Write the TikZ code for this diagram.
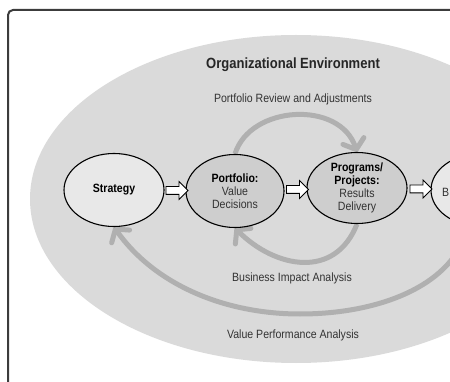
\documentclass[tikz,border=0pt]{standalone}
\usepackage{fontspec}
\setmainfont{Liberation Sans}[FakeStretch=0.88]
\usetikzlibrary{shapes.geometric,shapes.arrows,arrows.meta,calc,backgrounds}
\definecolor{envgray}{HTML}{DADADA}
\definecolor{ovallight}{HTML}{E8E8E8}
\definecolor{ovaldark}{HTML}{CECECE}
\definecolor{loopgray}{HTML}{B0B0B0}
\definecolor{framegray}{HTML}{3C3C3C}
\definecolor{textgray}{HTML}{333333}
\tikzset{
    oval/.style={ellipse,draw=black,line width=1.1pt,minimum width=100pt,minimum height=73pt,inner sep=0pt,align=center,font=\fontsize{12}{13}\selectfont},
    blockarrow/.style={single arrow,draw=black,fill=white,line width=0.8pt,inner xsep=0pt,inner ysep=3.5pt,minimum height=22pt,single arrow head extend=5pt},
    feedback/.style={draw=loopgray,line width=5pt,-{Straight Barb[length=9pt,width=22pt,round]}},
    caption/.style={text=textgray,font=\fontsize{12}{14}\selectfont}
}

\begin{document}
\begin{tikzpicture}[x=1pt,y=-1pt]
            \useasboundingbox (0,0) rectangle (450,382);
            \node[oval,fill=ovallight] (strategy) at (114,190) {\textbf{Strategy}};
            \node[oval,fill=ovaldark,minimum width=98pt] (portfolio) at (235,191) {\textbf{Portfolio:}\\\textcolor{textgray}{Value}\\\textcolor{textgray}{Decisions}};
            \node[oval,fill=ovaldark,minimum height=71pt] (programs) at (357,188) {\textbf{Programs/}\\\textbf{Projects:}\\\textcolor{textgray}{Results}\\\textcolor{textgray}{Delivery}};
            \node[oval,fill=ovallight] (benefit) at (481,190) {};
            \node[anchor=west,text=textgray,font=\fontsize{12}{13}\selectfont,inner sep=0pt] (bpart) at (442,192) {B};
            \node[blockarrow] (a1) at ($(strategy.east)!0.5!(portfolio.west)$) {};
            \node[blockarrow] (a2) at ($(portfolio.east)!0.5!(programs.west)$) {};
            \node[blockarrow] (a3) at ($(programs.east)!0.5!(benefit.west)$) {};
            \node[font=\fontsize{14.8}{16}\selectfont\bfseries,text=black!85] (env) at (293,65) {Organizational Environment};
            \node[caption] (review) at (293,99) {Portfolio Review and Adjustments};
            \node[caption] (impact) at (292,278) {Business Impact Analysis};
            \node[caption] (perf) at (293,335) {Value Performance Analysis};
            \begin{pgfonlayer}{background}
            \draw[framegray,line width=2pt,rounded corners=5pt] (8,10) rectangle (480,400);
            \fill[envgray] (296,199) ellipse [x radius=266,y radius=164];
            \draw[feedback] (portfolio.north) .. controls (250,105) and (340,100) .. (programs.north);
            \draw[feedback] (programs.south) .. controls (335,280) and (275,268) .. (portfolio.south);
            \draw[feedback] (benefit.-110) .. controls (455,285) and (380,314) .. (300,314) .. controls (225,314) and (155,285) .. (strategy.south);
            \end{pgfonlayer}
        \end{tikzpicture}
\end{document}
